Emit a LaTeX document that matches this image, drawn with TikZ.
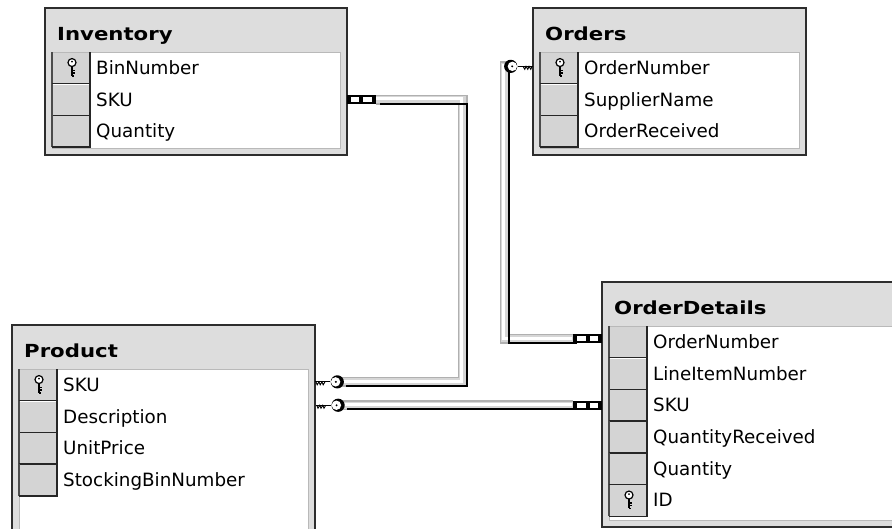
\documentclass[tikz,border=0pt]{standalone}
\usepackage{fontspec}
\setmainfont{DejaVu Sans}
\newfontfamily\titlefont[FakeStretch=1.18]{DejaVu Sans}
\usetikzlibrary{fit}

\definecolor{hdrgray}{RGB}{221,221,221}
\definecolor{colgray}{RGB}{212,212,212}
\definecolor{framegray}{RGB}{45,45,45}

\tikzset{
  tableframe/.style={draw=framegray, line width=1.6pt, fill=hdrgray, inner sep=0pt},
  tabletitle/.style={anchor=base west, inner sep=0pt, font=\titlefont\bfseries\fontsize{18}{22}\selectfont},
  fieldtext/.style={anchor=base west, inner sep=0pt, font=\fontsize{18.3}{22}\selectfont},
  cellline/.style={draw=black!85, line width=1.4pt},
  pipebase/.style={line width=10pt, draw=gray!62},
  pipemid/.style={line width=7pt, draw=gray!32},
  pipelight/.style={line width=3pt, draw=white, transform canvas={xshift=-0.8pt,yshift=0.8pt}},
  pipeshadow/.style={line width=2pt, draw=black, transform canvas={xshift=4pt,yshift=-4pt}},
  % primary-key glyph inside a field's selector cell
  rowkey/.pic={
    \draw[black, line width=1.2pt, fill=white] (0,-5.3) circle (4);
    \fill[black] (0,-6.3) circle (1);
    \draw[black, line width=1.3pt] (0,-1.3) -- (0,8)
      (0,2.5) -- (2.8,2.5) (0,5.2) -- (2.8,5.2) (0,8) -- (2.2,8);
  },
  % "one" end of a relationship: key pointing away from the table edge
  relkey/.pic={
    \draw[black, line width=1.1pt] (0,0) -- (15,0);
    \draw[black, line width=0.9pt] (1,0) -- (2.2,3) -- (4,0) -- (5.2,3) -- (7,0) -- (8.2,3) -- (10,0);
    \fill[black] (22.3,0) circle (6.6);
    \fill[white] (20.6,0) circle (4.7);
    \fill[black] (20.8,0) circle (1.1);
  },
  % "many" end of a relationship: infinity chain
  relmany/.pic={
    \fill[black] (0,-4.6) rectangle (29,4.6);
    \fill[white] (3.6,-2.6) rectangle (11.6,2.6);
    \fill[white] (16.4,-2.6) rectangle (25,2.6);
  },
}

% #1 name, #2 left, #3 top, #4 right, #5 bottom, #6 title, #7 fields (name/iskey)
\newcommand{\dbtable}[7]{%
  \coordinate (#1-nw) at (#2,#3);
  \coordinate (#1-se) at (#4,#5);
  \node[tableframe, fit=(#1-nw)(#1-se)] (#1) {};
  \node[tabletitle] (#1-title) at (#2+12,#3+32) {#6};
  \fill[white] (#2+7,#3+44) rectangle (#4-7,#5-7);
  \draw[gray!55, line width=0.9pt] (#2+7,#3+44) rectangle (#4-7,#5-7);
  \foreach \fname/\fkey [count=\i] in {#7} {
    \pgfmathsetmacro\rt{#3+44+(\i-1)*31.7}
    \pgfmathsetmacro\rb{\rt+31.7}
    \pgfmathsetmacro\rc{\rt+15.85}
    \fill[colgray] (#2+7,\rt+0.8) rectangle (#2+45,\rb);
    \draw[black!70, line width=1.1pt] (#2+7,\rt) -- (#2+7,\rb);
    \draw[cellline] (#2+7,\rb) -- (#2+45,\rb) -- (#2+45,\rt);
    \node[fieldtext] (#1-\i) at (#2+51,\rc+6.5) {\fname};
    \coordinate (#1-\i-w) at (#2,\rc);
    \coordinate (#1-\i-e) at (#4,\rc);
    \ifnum\fkey=1 \pic at (#2+27,\rc) {rowkey}; \fi
  }
}

\begin{document}
\begin{tikzpicture}[x=1pt,y=-1pt]
  \useasboundingbox (0,0) rectangle (892,528);
  \clip (0,0) rectangle (892,528);
  \fill[white] (0,0) rectangle (892,528);

  \dbtable{inv}{45}{8}{347}{155}{Inventory}{BinNumber/1,SKU/0,Quantity/0}
  \dbtable{ord}{533}{8}{806}{155}{Orders}{OrderNumber/1,SupplierName/0,OrderReceived/0}
  \dbtable{prod}{12}{325}{315}{545}{Product}{SKU/1,Description/0,UnitPrice/0,StockingBinNumber/0}
  \dbtable{od}{602}{282}{910}{527}{OrderDetails}{OrderNumber/0,LineItemNumber/0,SKU/0,QuantityReceived/0,Quantity/0,ID/1}

  % attachment points of the relationships
  \coordinate (r1k) at ([yshift=3pt]prod-1-e);
  \coordinate (r1a) at ([xshift=29pt]inv-2-e);
  \coordinate (r1b) at ([xshift=27pt]r1k);
  \coordinate (r1x) at (462.5,0);

  \coordinate (r2k) at (prod.east |- od-3-w);
  \coordinate (r2a) at ([xshift=27pt]r2k);
  \coordinate (r2b) at ([xshift=-29pt]od-3-w);

  \coordinate (r3k) at ([yshift=1.5pt]ord-1-w);
  \coordinate (r3m) at ([yshift=3pt]od-1-w);
  \coordinate (r3a) at ([xshift=-26pt]r3k);
  \coordinate (r3b) at ([xshift=-29pt]r3m);
  \coordinate (r3x) at (504.5,0);

  % relationship pipes
  \foreach \layer in {pipebase,pipemid,pipelight,pipeshadow} {
    \draw[\layer] (r1a) -- (r1a -| r1x) -- (r1b -| r1x) -- (r1b);
    \draw[\layer] (r2a) -- (r2b);
    \draw[\layer] (r3a) -- (r3a -| r3x) -- (r3b -| r3x) -- (r3b);
  }

  % relationship end symbols
  \pic at (inv-2-e) {relmany};
  \pic at (r1k) {relkey};
  \pic at (r2k) {relkey};
  \pic[xscale=-1] at (od-3-w) {relmany};
  \pic[xscale=-1] at (r3k) {relkey};
  \pic[xscale=-1] at (r3m) {relmany};
\end{tikzpicture}
\end{document}
